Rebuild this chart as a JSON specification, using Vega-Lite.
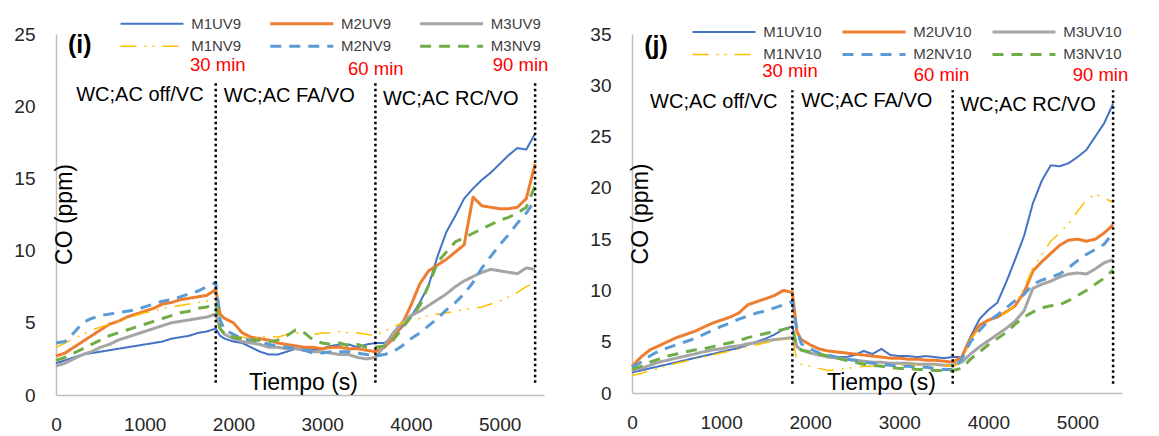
{
  "$schema": "https://vega.github.io/schema/vega-lite/v6.json",
  "background": "white",
  "padding": {"left": 13, "top": 15, "right": 5, "bottom": 0},
  "autosize": {"type": "pad"},
  "bounds": "flush",
  "spacing": 88,
  "config": {
    "view": {"stroke": null},
    "font": "Liberation Sans",
    "axis": {"grid": false, "ticks": false, "labelFlush": false, "format": "d", "domainColor": "#bfbfbf", "domainWidth": 1.5, "labelFont": "Liberation Sans", "labelFontSize": 19, "labelColor": "#262626", "titleFont": "Liberation Sans", "titleFontSize": 23, "titleFontWeight": "normal", "titleColor": "#000000"},
    "axisX": {"labelPadding": 20},
    "axisY": {"labelPadding": 21},
    "legend": {"padding": 0, "labelFont": "Liberation Sans", "labelFontSize": 15, "labelColor": "#404040", "symbolType": "stroke", "symbolSize": 3969, "symbolOffset": 0, "labelOffset": 6.2, "clipHeight": 17, "rowPadding": 5.4, "gridAlign": "each", "labelLimit": 0}
  },
  "datasets": {
    "di": [
      {"t":0,"s":"M1UV9","v":2.2},{"t":100,"s":"M1UV9","v":2.4},{"t":200,"s":"M1UV9","v":2.6},{"t":300,"s":"M1UV9","v":2.8},{"t":400,"s":"M1UV9","v":2.9},{"t":500,"s":"M1UV9","v":3.0},{"t":600,"s":"M1UV9","v":3.1},{"t":700,"s":"M1UV9","v":3.2},{"t":800,"s":"M1UV9","v":3.3},{"t":900,"s":"M1UV9","v":3.4},{"t":1000,"s":"M1UV9","v":3.5},{"t":1100,"s":"M1UV9","v":3.6},{"t":1200,"s":"M1UV9","v":3.7},{"t":1300,"s":"M1UV9","v":3.9},{"t":1400,"s":"M1UV9","v":4.0},{"t":1500,"s":"M1UV9","v":4.1},{"t":1600,"s":"M1UV9","v":4.3},{"t":1700,"s":"M1UV9","v":4.4},{"t":1800,"s":"M1UV9","v":4.6},
      {"t":1850,"s":"M1UV9","v":4.1},{"t":1900,"s":"M1UV9","v":3.9},{"t":2000,"s":"M1UV9","v":3.7},{"t":2100,"s":"M1UV9","v":3.6},{"t":2200,"s":"M1UV9","v":3.3},{"t":2300,"s":"M1UV9","v":3.0},{"t":2400,"s":"M1UV9","v":2.8},{"t":2500,"s":"M1UV9","v":2.8},{"t":2600,"s":"M1UV9","v":3.0},{"t":2700,"s":"M1UV9","v":3.2},{"t":2800,"s":"M1UV9","v":3.3},{"t":2900,"s":"M1UV9","v":3.1},{"t":3000,"s":"M1UV9","v":3.2},{"t":3100,"s":"M1UV9","v":3.4},{"t":3200,"s":"M1UV9","v":3.5},{"t":3300,"s":"M1UV9","v":3.5},{"t":3400,"s":"M1UV9","v":3.3},{"t":3500,"s":"M1UV9","v":3.5},{"t":3600,"s":"M1UV9","v":3.6},
      {"t":3700,"s":"M1UV9","v":3.6},{"t":3800,"s":"M1UV9","v":4.0},{"t":3900,"s":"M1UV9","v":4.7},{"t":4000,"s":"M1UV9","v":5.4},{"t":4100,"s":"M1UV9","v":6.4},{"t":4200,"s":"M1UV9","v":7.6},{"t":4300,"s":"M1UV9","v":9.6},{"t":4400,"s":"M1UV9","v":11.3},{"t":4500,"s":"M1UV9","v":12.4},{"t":4600,"s":"M1UV9","v":13.6},{"t":4700,"s":"M1UV9","v":14.3},{"t":4800,"s":"M1UV9","v":14.9},{"t":4900,"s":"M1UV9","v":15.4},{"t":5000,"s":"M1UV9","v":16.0},{"t":5100,"s":"M1UV9","v":16.6},{"t":5200,"s":"M1UV9","v":17.1},{"t":5300,"s":"M1UV9","v":17.0},{"t":5400,"s":"M1UV9","v":18.1},

      {"t":0,"s":"M2UV9","v":2.7},{"t":100,"s":"M2UV9","v":2.9},{"t":200,"s":"M2UV9","v":3.3},{"t":300,"s":"M2UV9","v":3.7},{"t":400,"s":"M2UV9","v":4.1},{"t":500,"s":"M2UV9","v":4.5},{"t":600,"s":"M2UV9","v":4.9},{"t":700,"s":"M2UV9","v":5.1},{"t":800,"s":"M2UV9","v":5.4},{"t":900,"s":"M2UV9","v":5.6},{"t":1000,"s":"M2UV9","v":5.8},{"t":1100,"s":"M2UV9","v":6.0},{"t":1200,"s":"M2UV9","v":6.3},{"t":1300,"s":"M2UV9","v":6.4},{"t":1400,"s":"M2UV9","v":6.6},{"t":1500,"s":"M2UV9","v":6.7},{"t":1600,"s":"M2UV9","v":6.8},{"t":1700,"s":"M2UV9","v":6.9},{"t":1800,"s":"M2UV9","v":7.3},
      {"t":1850,"s":"M2UV9","v":5.6},{"t":1900,"s":"M2UV9","v":5.3},{"t":2000,"s":"M2UV9","v":5.0},{"t":2100,"s":"M2UV9","v":4.3},{"t":2200,"s":"M2UV9","v":4.0},{"t":2300,"s":"M2UV9","v":3.9},{"t":2400,"s":"M2UV9","v":3.8},{"t":2500,"s":"M2UV9","v":3.6},{"t":2600,"s":"M2UV9","v":3.5},{"t":2700,"s":"M2UV9","v":3.4},{"t":2800,"s":"M2UV9","v":3.3},{"t":2900,"s":"M2UV9","v":3.3},{"t":3000,"s":"M2UV9","v":3.2},{"t":3100,"s":"M2UV9","v":3.3},{"t":3200,"s":"M2UV9","v":3.3},{"t":3300,"s":"M2UV9","v":3.2},{"t":3400,"s":"M2UV9","v":3.2},{"t":3500,"s":"M2UV9","v":3.1},{"t":3600,"s":"M2UV9","v":3.0},
      {"t":3700,"s":"M2UV9","v":3.3},{"t":3800,"s":"M2UV9","v":3.9},{"t":3900,"s":"M2UV9","v":4.9},{"t":4000,"s":"M2UV9","v":6.2},{"t":4100,"s":"M2UV9","v":7.7},{"t":4200,"s":"M2UV9","v":8.6},{"t":4300,"s":"M2UV9","v":9.0},{"t":4400,"s":"M2UV9","v":9.4},{"t":4500,"s":"M2UV9","v":9.9},{"t":4600,"s":"M2UV9","v":10.4},{"t":4700,"s":"M2UV9","v":13.7},{"t":4800,"s":"M2UV9","v":13.1},{"t":4900,"s":"M2UV9","v":13.0},{"t":5000,"s":"M2UV9","v":12.9},{"t":5100,"s":"M2UV9","v":12.9},{"t":5200,"s":"M2UV9","v":13.0},{"t":5300,"s":"M2UV9","v":13.6},{"t":5400,"s":"M2UV9","v":16.0},

      {"t":0,"s":"M3UV9","v":2.0},{"t":100,"s":"M3UV9","v":2.2},{"t":200,"s":"M3UV9","v":2.5},{"t":300,"s":"M3UV9","v":2.8},{"t":400,"s":"M3UV9","v":3.0},{"t":500,"s":"M3UV9","v":3.3},{"t":600,"s":"M3UV9","v":3.5},{"t":700,"s":"M3UV9","v":3.8},{"t":800,"s":"M3UV9","v":4.0},{"t":900,"s":"M3UV9","v":4.2},{"t":1000,"s":"M3UV9","v":4.4},{"t":1100,"s":"M3UV9","v":4.6},{"t":1200,"s":"M3UV9","v":4.8},{"t":1300,"s":"M3UV9","v":5.0},{"t":1400,"s":"M3UV9","v":5.1},{"t":1500,"s":"M3UV9","v":5.2},{"t":1600,"s":"M3UV9","v":5.3},{"t":1700,"s":"M3UV9","v":5.4},{"t":1800,"s":"M3UV9","v":5.6},
      {"t":1850,"s":"M3UV9","v":4.6},{"t":1900,"s":"M3UV9","v":4.2},{"t":2000,"s":"M3UV9","v":3.9},{"t":2100,"s":"M3UV9","v":3.7},{"t":2200,"s":"M3UV9","v":3.6},{"t":2300,"s":"M3UV9","v":3.5},{"t":2400,"s":"M3UV9","v":3.3},{"t":2500,"s":"M3UV9","v":3.3},{"t":2600,"s":"M3UV9","v":3.2},{"t":2700,"s":"M3UV9","v":3.2},{"t":2800,"s":"M3UV9","v":3.1},{"t":2900,"s":"M3UV9","v":3.0},{"t":3000,"s":"M3UV9","v":3.0},{"t":3100,"s":"M3UV9","v":2.9},{"t":3200,"s":"M3UV9","v":2.8},{"t":3300,"s":"M3UV9","v":2.8},{"t":3400,"s":"M3UV9","v":2.6},{"t":3500,"s":"M3UV9","v":2.5},{"t":3600,"s":"M3UV9","v":2.6},
      {"t":3700,"s":"M3UV9","v":3.4},{"t":3800,"s":"M3UV9","v":4.3},{"t":3900,"s":"M3UV9","v":5.0},{"t":4000,"s":"M3UV9","v":5.5},{"t":4100,"s":"M3UV9","v":5.8},{"t":4200,"s":"M3UV9","v":6.2},{"t":4300,"s":"M3UV9","v":6.6},{"t":4400,"s":"M3UV9","v":7.0},{"t":4500,"s":"M3UV9","v":7.5},{"t":4600,"s":"M3UV9","v":7.9},{"t":4700,"s":"M3UV9","v":8.2},{"t":4800,"s":"M3UV9","v":8.5},{"t":4900,"s":"M3UV9","v":8.7},{"t":5000,"s":"M3UV9","v":8.6},{"t":5100,"s":"M3UV9","v":8.5},{"t":5200,"s":"M3UV9","v":8.4},{"t":5300,"s":"M3UV9","v":8.8},{"t":5400,"s":"M3UV9","v":8.7},

      {"t":0,"s":"M1NV9","v":3.3},{"t":100,"s":"M1NV9","v":3.6},{"t":200,"s":"M1NV9","v":3.9},{"t":300,"s":"M1NV9","v":4.2},{"t":400,"s":"M1NV9","v":4.5},{"t":500,"s":"M1NV9","v":4.7},{"t":600,"s":"M1NV9","v":4.9},{"t":700,"s":"M1NV9","v":5.1},{"t":800,"s":"M1NV9","v":5.3},{"t":900,"s":"M1NV9","v":5.5},{"t":1000,"s":"M1NV9","v":5.7},{"t":1100,"s":"M1NV9","v":5.8},{"t":1200,"s":"M1NV9","v":6.0},{"t":1300,"s":"M1NV9","v":6.1},{"t":1400,"s":"M1NV9","v":6.2},{"t":1500,"s":"M1NV9","v":6.3},{"t":1600,"s":"M1NV9","v":6.4},{"t":1700,"s":"M1NV9","v":6.5},{"t":1800,"s":"M1NV9","v":6.6},
      {"t":1850,"s":"M1NV9","v":4.8},{"t":1900,"s":"M1NV9","v":4.3},{"t":2000,"s":"M1NV9","v":4.1},{"t":2100,"s":"M1NV9","v":4.0},{"t":2200,"s":"M1NV9","v":3.9},{"t":2300,"s":"M1NV9","v":4.0},{"t":2400,"s":"M1NV9","v":4.1},{"t":2500,"s":"M1NV9","v":4.0},{"t":2600,"s":"M1NV9","v":4.2},{"t":2700,"s":"M1NV9","v":4.3},{"t":2800,"s":"M1NV9","v":4.3},{"t":2900,"s":"M1NV9","v":4.2},{"t":3000,"s":"M1NV9","v":4.3},{"t":3100,"s":"M1NV9","v":4.3},{"t":3200,"s":"M1NV9","v":4.4},{"t":3300,"s":"M1NV9","v":4.3},{"t":3400,"s":"M1NV9","v":4.3},{"t":3500,"s":"M1NV9","v":4.2},{"t":3600,"s":"M1NV9","v":4.1},
      {"t":3700,"s":"M1NV9","v":4.4},{"t":3800,"s":"M1NV9","v":4.7},{"t":3900,"s":"M1NV9","v":5.0},{"t":4000,"s":"M1NV9","v":5.2},{"t":4100,"s":"M1NV9","v":5.3},{"t":4200,"s":"M1NV9","v":5.5},{"t":4300,"s":"M1NV9","v":5.6},{"t":4400,"s":"M1NV9","v":5.7},{"t":4500,"s":"M1NV9","v":5.8},{"t":4600,"s":"M1NV9","v":5.9},{"t":4700,"s":"M1NV9","v":6.0},{"t":4800,"s":"M1NV9","v":6.1},{"t":4900,"s":"M1NV9","v":6.3},{"t":5000,"s":"M1NV9","v":6.5},{"t":5100,"s":"M1NV9","v":6.8},{"t":5200,"s":"M1NV9","v":7.1},{"t":5300,"s":"M1NV9","v":7.5},{"t":5400,"s":"M1NV9","v":7.8},

      {"t":0,"s":"M2NV9","v":3.6},{"t":100,"s":"M2NV9","v":3.7},{"t":200,"s":"M2NV9","v":4.3},{"t":300,"s":"M2NV9","v":5.0},{"t":400,"s":"M2NV9","v":5.3},{"t":500,"s":"M2NV9","v":5.5},{"t":600,"s":"M2NV9","v":5.6},{"t":700,"s":"M2NV9","v":5.7},{"t":800,"s":"M2NV9","v":5.8},{"t":900,"s":"M2NV9","v":5.9},{"t":1000,"s":"M2NV9","v":6.1},{"t":1100,"s":"M2NV9","v":6.3},{"t":1200,"s":"M2NV9","v":6.5},{"t":1300,"s":"M2NV9","v":6.6},{"t":1400,"s":"M2NV9","v":6.8},{"t":1500,"s":"M2NV9","v":7.0},{"t":1600,"s":"M2NV9","v":7.2},{"t":1700,"s":"M2NV9","v":7.5},{"t":1800,"s":"M2NV9","v":7.8},
      {"t":1850,"s":"M2NV9","v":5.2},{"t":1900,"s":"M2NV9","v":4.5},{"t":2000,"s":"M2NV9","v":4.2},{"t":2100,"s":"M2NV9","v":3.9},{"t":2200,"s":"M2NV9","v":3.8},{"t":2300,"s":"M2NV9","v":3.7},{"t":2400,"s":"M2NV9","v":3.5},{"t":2500,"s":"M2NV9","v":3.4},{"t":2600,"s":"M2NV9","v":3.3},{"t":2700,"s":"M2NV9","v":3.2},{"t":2800,"s":"M2NV9","v":3.1},{"t":2900,"s":"M2NV9","v":2.9},{"t":3000,"s":"M2NV9","v":2.9},{"t":3100,"s":"M2NV9","v":3.0},{"t":3200,"s":"M2NV9","v":3.0},{"t":3300,"s":"M2NV9","v":3.0},{"t":3400,"s":"M2NV9","v":2.9},{"t":3500,"s":"M2NV9","v":2.8},{"t":3600,"s":"M2NV9","v":2.7},
      {"t":3700,"s":"M2NV9","v":2.8},{"t":3800,"s":"M2NV9","v":3.0},{"t":3900,"s":"M2NV9","v":3.4},{"t":4000,"s":"M2NV9","v":3.9},{"t":4100,"s":"M2NV9","v":4.3},{"t":4200,"s":"M2NV9","v":4.8},{"t":4300,"s":"M2NV9","v":5.3},{"t":4400,"s":"M2NV9","v":5.9},{"t":4500,"s":"M2NV9","v":6.4},{"t":4600,"s":"M2NV9","v":7.0},{"t":4700,"s":"M2NV9","v":7.8},{"t":4800,"s":"M2NV9","v":8.8},{"t":4900,"s":"M2NV9","v":9.6},{"t":5000,"s":"M2NV9","v":10.4},{"t":5100,"s":"M2NV9","v":11.1},{"t":5200,"s":"M2NV9","v":11.9},{"t":5300,"s":"M2NV9","v":12.6},{"t":5400,"s":"M2NV9","v":13.5},

      {"t":0,"s":"M3NV9","v":2.4},{"t":100,"s":"M3NV9","v":2.6},{"t":200,"s":"M3NV9","v":2.9},{"t":300,"s":"M3NV9","v":3.2},{"t":400,"s":"M3NV9","v":3.5},{"t":500,"s":"M3NV9","v":3.8},{"t":600,"s":"M3NV9","v":4.1},{"t":700,"s":"M3NV9","v":4.3},{"t":800,"s":"M3NV9","v":4.5},{"t":900,"s":"M3NV9","v":4.7},{"t":1000,"s":"M3NV9","v":4.9},{"t":1100,"s":"M3NV9","v":5.1},{"t":1200,"s":"M3NV9","v":5.3},{"t":1300,"s":"M3NV9","v":5.5},{"t":1400,"s":"M3NV9","v":5.7},{"t":1500,"s":"M3NV9","v":5.8},{"t":1600,"s":"M3NV9","v":6.0},{"t":1700,"s":"M3NV9","v":6.1},{"t":1800,"s":"M3NV9","v":6.3},
      {"t":1850,"s":"M3NV9","v":4.6},{"t":1900,"s":"M3NV9","v":4.2},{"t":2000,"s":"M3NV9","v":4.0},{"t":2100,"s":"M3NV9","v":3.9},{"t":2200,"s":"M3NV9","v":3.8},{"t":2300,"s":"M3NV9","v":3.8},{"t":2400,"s":"M3NV9","v":3.7},{"t":2500,"s":"M3NV9","v":3.8},{"t":2600,"s":"M3NV9","v":4.1},{"t":2700,"s":"M3NV9","v":4.5},{"t":2800,"s":"M3NV9","v":4.3},{"t":2900,"s":"M3NV9","v":3.8},{"t":3000,"s":"M3NV9","v":3.6},{"t":3100,"s":"M3NV9","v":3.5},{"t":3200,"s":"M3NV9","v":3.6},{"t":3300,"s":"M3NV9","v":3.4},{"t":3400,"s":"M3NV9","v":3.5},{"t":3500,"s":"M3NV9","v":3.3},{"t":3600,"s":"M3NV9","v":3.3},
      {"t":3700,"s":"M3NV9","v":3.4},{"t":3800,"s":"M3NV9","v":3.8},{"t":3900,"s":"M3NV9","v":4.6},{"t":4000,"s":"M3NV9","v":5.4},{"t":4100,"s":"M3NV9","v":6.2},{"t":4200,"s":"M3NV9","v":7.6},{"t":4300,"s":"M3NV9","v":9.2},{"t":4400,"s":"M3NV9","v":9.9},{"t":4500,"s":"M3NV9","v":10.6},{"t":4600,"s":"M3NV9","v":10.9},{"t":4700,"s":"M3NV9","v":11.2},{"t":4800,"s":"M3NV9","v":11.5},{"t":4900,"s":"M3NV9","v":11.8},{"t":5000,"s":"M3NV9","v":12.1},{"t":5100,"s":"M3NV9","v":12.3},{"t":5200,"s":"M3NV9","v":12.6},{"t":5300,"s":"M3NV9","v":13.0},{"t":5400,"s":"M3NV9","v":14.5}
    ],
    "dj": [
      {"t":0,"s":"M1UV10","v":2.0},{"t":100,"s":"M1UV10","v":2.2},{"t":200,"s":"M1UV10","v":2.4},{"t":300,"s":"M1UV10","v":2.6},{"t":400,"s":"M1UV10","v":2.8},{"t":500,"s":"M1UV10","v":3.0},{"t":600,"s":"M1UV10","v":3.2},{"t":700,"s":"M1UV10","v":3.4},{"t":800,"s":"M1UV10","v":3.6},{"t":900,"s":"M1UV10","v":3.8},{"t":1000,"s":"M1UV10","v":4.0},{"t":1100,"s":"M1UV10","v":4.2},{"t":1200,"s":"M1UV10","v":4.4},{"t":1300,"s":"M1UV10","v":4.7},{"t":1400,"s":"M1UV10","v":5.0},{"t":1500,"s":"M1UV10","v":5.3},{"t":1600,"s":"M1UV10","v":5.7},{"t":1700,"s":"M1UV10","v":6.2},{"t":1800,"s":"M1UV10","v":6.5},
      {"t":1850,"s":"M1UV10","v":4.6},{"t":1900,"s":"M1UV10","v":4.2},{"t":2000,"s":"M1UV10","v":3.9},{"t":2100,"s":"M1UV10","v":3.7},{"t":2200,"s":"M1UV10","v":3.6},{"t":2300,"s":"M1UV10","v":3.5},{"t":2400,"s":"M1UV10","v":3.5},{"t":2500,"s":"M1UV10","v":3.7},{"t":2600,"s":"M1UV10","v":4.1},{"t":2700,"s":"M1UV10","v":3.8},{"t":2800,"s":"M1UV10","v":4.3},{"t":2900,"s":"M1UV10","v":3.7},{"t":3000,"s":"M1UV10","v":3.6},{"t":3100,"s":"M1UV10","v":3.6},{"t":3200,"s":"M1UV10","v":3.5},{"t":3300,"s":"M1UV10","v":3.6},{"t":3400,"s":"M1UV10","v":3.5},{"t":3500,"s":"M1UV10","v":3.4},{"t":3600,"s":"M1UV10","v":3.5},
      {"t":3700,"s":"M1UV10","v":3.5},{"t":3800,"s":"M1UV10","v":5.5},{"t":3900,"s":"M1UV10","v":7.2},{"t":4000,"s":"M1UV10","v":8.1},{"t":4100,"s":"M1UV10","v":8.8},{"t":4200,"s":"M1UV10","v":10.8},{"t":4300,"s":"M1UV10","v":13.0},{"t":4400,"s":"M1UV10","v":15.3},{"t":4500,"s":"M1UV10","v":18.5},{"t":4600,"s":"M1UV10","v":20.7},{"t":4700,"s":"M1UV10","v":22.2},{"t":4800,"s":"M1UV10","v":22.1},{"t":4900,"s":"M1UV10","v":22.4},{"t":5000,"s":"M1UV10","v":23.0},{"t":5100,"s":"M1UV10","v":23.7},{"t":5200,"s":"M1UV10","v":25.0},{"t":5300,"s":"M1UV10","v":26.3},{"t":5400,"s":"M1UV10","v":28.2},

      {"t":0,"s":"M2UV10","v":2.6},{"t":100,"s":"M2UV10","v":3.5},{"t":200,"s":"M2UV10","v":4.2},{"t":300,"s":"M2UV10","v":4.6},{"t":400,"s":"M2UV10","v":5.0},{"t":500,"s":"M2UV10","v":5.4},{"t":600,"s":"M2UV10","v":5.7},{"t":700,"s":"M2UV10","v":6.0},{"t":800,"s":"M2UV10","v":6.4},{"t":900,"s":"M2UV10","v":6.8},{"t":1000,"s":"M2UV10","v":7.1},{"t":1100,"s":"M2UV10","v":7.4},{"t":1200,"s":"M2UV10","v":7.8},{"t":1300,"s":"M2UV10","v":8.6},{"t":1400,"s":"M2UV10","v":8.9},{"t":1500,"s":"M2UV10","v":9.2},{"t":1600,"s":"M2UV10","v":9.5},{"t":1700,"s":"M2UV10","v":10.0},{"t":1800,"s":"M2UV10","v":9.8},
      {"t":1850,"s":"M2UV10","v":6.0},{"t":1900,"s":"M2UV10","v":5.2},{"t":2000,"s":"M2UV10","v":4.7},{"t":2100,"s":"M2UV10","v":4.3},{"t":2200,"s":"M2UV10","v":4.1},{"t":2300,"s":"M2UV10","v":4.0},{"t":2400,"s":"M2UV10","v":3.9},{"t":2500,"s":"M2UV10","v":3.8},{"t":2600,"s":"M2UV10","v":3.7},{"t":2700,"s":"M2UV10","v":3.6},{"t":2800,"s":"M2UV10","v":3.5},{"t":2900,"s":"M2UV10","v":3.4},{"t":3000,"s":"M2UV10","v":3.4},{"t":3100,"s":"M2UV10","v":3.3},{"t":3200,"s":"M2UV10","v":3.3},{"t":3300,"s":"M2UV10","v":3.2},{"t":3400,"s":"M2UV10","v":3.2},{"t":3500,"s":"M2UV10","v":3.1},{"t":3600,"s":"M2UV10","v":3.0},
      {"t":3700,"s":"M2UV10","v":3.5},{"t":3800,"s":"M2UV10","v":5.3},{"t":3900,"s":"M2UV10","v":6.6},{"t":4000,"s":"M2UV10","v":7.1},{"t":4100,"s":"M2UV10","v":7.4},{"t":4200,"s":"M2UV10","v":7.9},{"t":4300,"s":"M2UV10","v":8.5},{"t":4400,"s":"M2UV10","v":9.8},{"t":4500,"s":"M2UV10","v":11.9},{"t":4600,"s":"M2UV10","v":12.8},{"t":4700,"s":"M2UV10","v":13.6},{"t":4800,"s":"M2UV10","v":14.4},{"t":4900,"s":"M2UV10","v":14.9},{"t":5000,"s":"M2UV10","v":15.0},{"t":5100,"s":"M2UV10","v":14.8},{"t":5200,"s":"M2UV10","v":15.0},{"t":5300,"s":"M2UV10","v":15.6},{"t":5400,"s":"M2UV10","v":16.4},

      {"t":0,"s":"M3UV10","v":2.2},{"t":100,"s":"M3UV10","v":2.4},{"t":200,"s":"M3UV10","v":2.7},{"t":300,"s":"M3UV10","v":3.0},{"t":400,"s":"M3UV10","v":3.2},{"t":500,"s":"M3UV10","v":3.4},{"t":600,"s":"M3UV10","v":3.6},{"t":700,"s":"M3UV10","v":3.8},{"t":800,"s":"M3UV10","v":4.0},{"t":900,"s":"M3UV10","v":4.2},{"t":1000,"s":"M3UV10","v":4.3},{"t":1100,"s":"M3UV10","v":4.5},{"t":1200,"s":"M3UV10","v":4.6},{"t":1300,"s":"M3UV10","v":4.8},{"t":1400,"s":"M3UV10","v":4.9},{"t":1500,"s":"M3UV10","v":5.1},{"t":1600,"s":"M3UV10","v":5.2},{"t":1700,"s":"M3UV10","v":5.3},{"t":1800,"s":"M3UV10","v":5.4},
      {"t":1850,"s":"M3UV10","v":4.5},{"t":1900,"s":"M3UV10","v":4.2},{"t":2000,"s":"M3UV10","v":3.9},{"t":2100,"s":"M3UV10","v":3.7},{"t":2200,"s":"M3UV10","v":3.5},{"t":2300,"s":"M3UV10","v":3.4},{"t":2400,"s":"M3UV10","v":3.3},{"t":2500,"s":"M3UV10","v":3.2},{"t":2600,"s":"M3UV10","v":3.1},{"t":2700,"s":"M3UV10","v":3.0},{"t":2800,"s":"M3UV10","v":3.0},{"t":2900,"s":"M3UV10","v":2.9},{"t":3000,"s":"M3UV10","v":2.9},{"t":3100,"s":"M3UV10","v":2.9},{"t":3200,"s":"M3UV10","v":2.8},{"t":3300,"s":"M3UV10","v":2.8},{"t":3400,"s":"M3UV10","v":2.8},{"t":3500,"s":"M3UV10","v":2.7},{"t":3600,"s":"M3UV10","v":2.7},
      {"t":3700,"s":"M3UV10","v":3.0},{"t":3800,"s":"M3UV10","v":3.8},{"t":3900,"s":"M3UV10","v":4.5},{"t":4000,"s":"M3UV10","v":5.1},{"t":4100,"s":"M3UV10","v":5.7},{"t":4200,"s":"M3UV10","v":6.3},{"t":4300,"s":"M3UV10","v":7.0},{"t":4400,"s":"M3UV10","v":8.0},{"t":4500,"s":"M3UV10","v":10.2},{"t":4600,"s":"M3UV10","v":10.6},{"t":4700,"s":"M3UV10","v":10.9},{"t":4800,"s":"M3UV10","v":11.3},{"t":4900,"s":"M3UV10","v":11.6},{"t":5000,"s":"M3UV10","v":11.7},{"t":5100,"s":"M3UV10","v":11.6},{"t":5200,"s":"M3UV10","v":12.1},{"t":5300,"s":"M3UV10","v":12.7},{"t":5400,"s":"M3UV10","v":13.0},

      {"t":0,"s":"M1NV10","v":1.7},{"t":100,"s":"M1NV10","v":1.9},{"t":200,"s":"M1NV10","v":2.2},{"t":300,"s":"M1NV10","v":2.4},{"t":400,"s":"M1NV10","v":2.7},{"t":500,"s":"M1NV10","v":2.9},{"t":600,"s":"M1NV10","v":3.1},{"t":700,"s":"M1NV10","v":3.3},{"t":800,"s":"M1NV10","v":3.5},{"t":900,"s":"M1NV10","v":3.7},{"t":1000,"s":"M1NV10","v":3.9},{"t":1100,"s":"M1NV10","v":4.1},{"t":1200,"s":"M1NV10","v":4.3},{"t":1300,"s":"M1NV10","v":4.5},{"t":1400,"s":"M1NV10","v":4.7},{"t":1500,"s":"M1NV10","v":4.9},{"t":1600,"s":"M1NV10","v":5.1},{"t":1700,"s":"M1NV10","v":5.2},{"t":1800,"s":"M1NV10","v":5.3},
      {"t":1850,"s":"M1NV10","v":3.2},{"t":1900,"s":"M1NV10","v":2.8},{"t":2000,"s":"M1NV10","v":2.6},{"t":2100,"s":"M1NV10","v":2.4},{"t":2200,"s":"M1NV10","v":2.2},{"t":2300,"s":"M1NV10","v":2.3},{"t":2400,"s":"M1NV10","v":2.4},{"t":2500,"s":"M1NV10","v":2.5},{"t":2600,"s":"M1NV10","v":2.6},{"t":2700,"s":"M1NV10","v":2.6},{"t":2800,"s":"M1NV10","v":2.6},{"t":2900,"s":"M1NV10","v":2.7},{"t":3000,"s":"M1NV10","v":2.7},{"t":3100,"s":"M1NV10","v":2.7},{"t":3200,"s":"M1NV10","v":2.7},{"t":3300,"s":"M1NV10","v":2.6},{"t":3400,"s":"M1NV10","v":2.7},{"t":3500,"s":"M1NV10","v":2.7},{"t":3600,"s":"M1NV10","v":2.6},
      {"t":3700,"s":"M1NV10","v":3.0},{"t":3800,"s":"M1NV10","v":5.2},{"t":3900,"s":"M1NV10","v":6.3},{"t":4000,"s":"M1NV10","v":7.0},{"t":4100,"s":"M1NV10","v":7.4},{"t":4200,"s":"M1NV10","v":7.8},{"t":4300,"s":"M1NV10","v":8.6},{"t":4400,"s":"M1NV10","v":10.2},{"t":4500,"s":"M1NV10","v":12.2},{"t":4600,"s":"M1NV10","v":13.5},{"t":4700,"s":"M1NV10","v":14.8},{"t":4800,"s":"M1NV10","v":15.6},{"t":4900,"s":"M1NV10","v":16.5},{"t":5000,"s":"M1NV10","v":17.7},{"t":5100,"s":"M1NV10","v":18.8},{"t":5200,"s":"M1NV10","v":19.4},{"t":5300,"s":"M1NV10","v":19.0},{"t":5400,"s":"M1NV10","v":18.6},

      {"t":0,"s":"M2NV10","v":2.5},{"t":100,"s":"M2NV10","v":3.0},{"t":200,"s":"M2NV10","v":3.6},{"t":300,"s":"M2NV10","v":4.1},{"t":400,"s":"M2NV10","v":4.4},{"t":500,"s":"M2NV10","v":4.7},{"t":600,"s":"M2NV10","v":5.0},{"t":700,"s":"M2NV10","v":5.3},{"t":800,"s":"M2NV10","v":5.7},{"t":900,"s":"M2NV10","v":6.1},{"t":1000,"s":"M2NV10","v":6.5},{"t":1100,"s":"M2NV10","v":6.8},{"t":1200,"s":"M2NV10","v":7.2},{"t":1300,"s":"M2NV10","v":7.5},{"t":1400,"s":"M2NV10","v":7.8},{"t":1500,"s":"M2NV10","v":8.0},{"t":1600,"s":"M2NV10","v":8.3},{"t":1700,"s":"M2NV10","v":8.6},{"t":1800,"s":"M2NV10","v":8.9},
      {"t":1850,"s":"M2NV10","v":6.2},{"t":1900,"s":"M2NV10","v":4.8},{"t":2000,"s":"M2NV10","v":4.3},{"t":2100,"s":"M2NV10","v":3.9},{"t":2200,"s":"M2NV10","v":3.7},{"t":2300,"s":"M2NV10","v":3.5},{"t":2400,"s":"M2NV10","v":3.3},{"t":2500,"s":"M2NV10","v":3.2},{"t":2600,"s":"M2NV10","v":3.0},{"t":2700,"s":"M2NV10","v":2.9},{"t":2800,"s":"M2NV10","v":2.8},{"t":2900,"s":"M2NV10","v":2.7},{"t":3000,"s":"M2NV10","v":2.6},{"t":3100,"s":"M2NV10","v":2.6},{"t":3200,"s":"M2NV10","v":2.5},{"t":3300,"s":"M2NV10","v":2.5},{"t":3400,"s":"M2NV10","v":2.4},{"t":3500,"s":"M2NV10","v":2.3},{"t":3600,"s":"M2NV10","v":2.3},
      {"t":3700,"s":"M2NV10","v":3.3},{"t":3800,"s":"M2NV10","v":5.0},{"t":3900,"s":"M2NV10","v":6.1},{"t":4000,"s":"M2NV10","v":7.0},{"t":4100,"s":"M2NV10","v":7.6},{"t":4200,"s":"M2NV10","v":8.3},{"t":4300,"s":"M2NV10","v":9.0},{"t":4400,"s":"M2NV10","v":9.6},{"t":4500,"s":"M2NV10","v":10.6},{"t":4600,"s":"M2NV10","v":11.0},{"t":4700,"s":"M2NV10","v":11.3},{"t":4800,"s":"M2NV10","v":11.6},{"t":4900,"s":"M2NV10","v":12.2},{"t":5000,"s":"M2NV10","v":12.9},{"t":5100,"s":"M2NV10","v":13.5},{"t":5200,"s":"M2NV10","v":14.0},{"t":5300,"s":"M2NV10","v":14.5},{"t":5400,"s":"M2NV10","v":15.6},

      {"t":0,"s":"M3NV10","v":2.3},{"t":100,"s":"M3NV10","v":2.6},{"t":200,"s":"M3NV10","v":3.0},{"t":300,"s":"M3NV10","v":3.3},{"t":400,"s":"M3NV10","v":3.6},{"t":500,"s":"M3NV10","v":3.8},{"t":600,"s":"M3NV10","v":4.0},{"t":700,"s":"M3NV10","v":4.2},{"t":800,"s":"M3NV10","v":4.3},{"t":900,"s":"M3NV10","v":4.5},{"t":1000,"s":"M3NV10","v":4.7},{"t":1100,"s":"M3NV10","v":4.9},{"t":1200,"s":"M3NV10","v":5.1},{"t":1300,"s":"M3NV10","v":5.4},{"t":1400,"s":"M3NV10","v":5.6},{"t":1500,"s":"M3NV10","v":5.8},{"t":1600,"s":"M3NV10","v":6.0},{"t":1700,"s":"M3NV10","v":6.2},{"t":1800,"s":"M3NV10","v":6.4},
      {"t":1850,"s":"M3NV10","v":4.5},{"t":1900,"s":"M3NV10","v":4.2},{"t":2000,"s":"M3NV10","v":4.0},{"t":2100,"s":"M3NV10","v":3.8},{"t":2200,"s":"M3NV10","v":3.6},{"t":2300,"s":"M3NV10","v":3.4},{"t":2400,"s":"M3NV10","v":3.2},{"t":2500,"s":"M3NV10","v":3.0},{"t":2600,"s":"M3NV10","v":2.8},{"t":2700,"s":"M3NV10","v":2.7},{"t":2800,"s":"M3NV10","v":2.6},{"t":2900,"s":"M3NV10","v":2.5},{"t":3000,"s":"M3NV10","v":2.4},{"t":3100,"s":"M3NV10","v":2.4},{"t":3200,"s":"M3NV10","v":2.3},{"t":3300,"s":"M3NV10","v":2.3},{"t":3400,"s":"M3NV10","v":2.2},{"t":3500,"s":"M3NV10","v":2.2},{"t":3600,"s":"M3NV10","v":2.2},
      {"t":3700,"s":"M3NV10","v":2.4},{"t":3800,"s":"M3NV10","v":3.3},{"t":3900,"s":"M3NV10","v":4.0},{"t":4000,"s":"M3NV10","v":4.7},{"t":4100,"s":"M3NV10","v":5.3},{"t":4200,"s":"M3NV10","v":5.9},{"t":4300,"s":"M3NV10","v":6.7},{"t":4400,"s":"M3NV10","v":7.4},{"t":4500,"s":"M3NV10","v":7.9},{"t":4600,"s":"M3NV10","v":8.3},{"t":4700,"s":"M3NV10","v":8.5},{"t":4800,"s":"M3NV10","v":8.6},{"t":4900,"s":"M3NV10","v":9.0},{"t":5000,"s":"M3NV10","v":9.5},{"t":5100,"s":"M3NV10","v":10.0},{"t":5200,"s":"M3NV10","v":10.6},{"t":5300,"s":"M3NV10","v":11.2},{"t":5400,"s":"M3NV10","v":12.0}
    ]
  },
  "hconcat": [
    {
      "width": 488,
      "height": 361,
      "layer": [
        {
          "data": {"name": "di"},
          "mark": {"type": "line", "strokeJoin": "round"},
          "encoding": {
            "x": {"field": "t", "type": "quantitative", "scale": {"domain": [0, 5500], "nice": false}, "axis": {"values": [0, 1000, 2000, 3000, 4000, 5000], "title": "Tiempo (s)", "titleX": 247, "titleY": -6, "titleAlign": "center", "titleBaseline": "alphabetic", "titleAngle": 0}},
            "y": {"field": "v", "type": "quantitative", "scale": {"domain": [0, 25], "nice": false, "zero": true}, "axis": {"values": [0, 5, 10, 15, 20, 25], "title": "CO (ppm)", "titleX": 15, "titleY": 180, "titleAngle": -90, "titleAlign": "center", "titleBaseline": "alphabetic"}},
            "color": {"field": "s", "type": "nominal", "scale": {"domain": ["M1UV9", "M1NV9", "M2UV9", "M2NV9", "M3UV9", "M3NV9"], "range": ["#4472C4", "#FFC000", "#ED7D31", "#5B9BD5", "#A5A5A5", "#70AD47"]}, "legend": {"title": null, "orient": "none", "legendX": 63, "legendY": -18.7, "columns": 3, "columnPadding": 26.8}},
            "strokeDash": {"field": "s", "type": "nominal", "scale": {"domain": ["M1UV9", "M1NV9", "M2UV9", "M2NV9", "M3UV9", "M3NV9"], "range": [[1, 0], [16, 8, 2, 6, 2, 8], [1, 0], [11, 8], [1, 0], [11, 8]]}},
            "strokeWidth": {"field": "s", "type": "nominal", "scale": {"type": "ordinal", "domain": ["M1UV9", "M1NV9", "M2UV9", "M2NV9", "M3UV9", "M3NV9"], "range": [2, 1.5, 3, 3, 3, 3]}}
          }
        },
        {
          "data": {"values": [{"t": 1800}, {"t": 3600}, {"t": 5400}]},
          "mark": {"type": "rule", "color": "#000000", "strokeWidth": 2.5, "strokeDash": [2.5, 3]},
          "encoding": {
            "x": {"field": "t", "type": "quantitative"},
            "y": {"datum": 0.85},
            "y2": {"datum": 21.75}
          }
        },
        {
          "data": {"values": [{"t": 946, "v": 20.75, "label": "WC;AC off/VC"}, {"t": 2630, "v": 20.73, "label": "WC;AC FA/VO"}, {"t": 4448, "v": 20.52, "label": "WC;AC RC/VO"}]},
          "mark": {"type": "text", "font": "Liberation Sans", "fontSize": 20, "color": "#000000", "align": "center", "baseline": "middle"},
          "encoding": {
            "x": {"field": "t", "type": "quantitative"},
            "y": {"field": "v", "type": "quantitative"},
            "text": {"field": "label"}
          }
        },
        {
          "data": {"values": [{"t": 1824, "v": 22.83, "label": "30 min"}, {"t": 3604, "v": 22.55, "label": "60 min"}, {"t": 5236, "v": 22.83, "label": "90 min"}]},
          "mark": {"type": "text", "font": "Liberation Sans", "fontSize": 18.5, "color": "#FF0000", "align": "center", "baseline": "middle"},
          "encoding": {
            "x": {"field": "t", "type": "quantitative"},
            "y": {"field": "v", "type": "quantitative"},
            "text": {"field": "label"}
          }
        },
        {
          "data": {"values": [{"t": 267, "v": 24.24, "label": "(i)"}]},
          "mark": {"type": "text", "font": "Liberation Sans", "fontSize": 25, "fontWeight": "bold", "color": "#000000", "align": "center", "baseline": "middle"},
          "encoding": {
            "x": {"field": "t", "type": "quantitative"},
            "y": {"field": "v", "type": "quantitative"},
            "text": {"field": "label"}
          }
        }
      ]
    },
    {
      "width": 490,
      "height": 359,
      "layer": [
        {
          "data": {"name": "dj"},
          "mark": {"type": "line", "strokeJoin": "round"},
          "encoding": {
            "x": {"field": "t", "type": "quantitative", "scale": {"domain": [0, 5500], "nice": false}, "axis": {"values": [0, 1000, 2000, 3000, 4000, 5000], "title": "Tiempo (s)", "titleX": 249, "titleY": -4, "titleAlign": "center", "titleBaseline": "alphabetic", "titleAngle": 0}},
            "y": {"field": "v", "type": "quantitative", "scale": {"domain": [0, 35], "nice": false, "zero": true}, "axis": {"values": [0, 5, 10, 15, 20, 25, 30, 35], "title": "CO (ppm)", "titleX": 15, "titleY": 179.5, "titleAngle": -90, "titleAlign": "center", "titleBaseline": "alphabetic"}},
            "color": {"field": "s", "type": "nominal", "scale": {"domain": ["M1UV10", "M1NV10", "M2UV10", "M2NV10", "M3UV10", "M3NV10"], "range": ["#4472C4", "#FFC000", "#ED7D31", "#5B9BD5", "#A5A5A5", "#70AD47"]}, "legend": {"title": null, "orient": "none", "legendX": 59, "legendY": -10.5, "columns": 3, "columnPadding": 19}},
            "strokeDash": {"field": "s", "type": "nominal", "scale": {"domain": ["M1UV10", "M1NV10", "M2UV10", "M2NV10", "M3UV10", "M3NV10"], "range": [[1, 0], [16, 8, 2, 6, 2, 8], [1, 0], [11, 8], [1, 0], [11, 8]]}},
            "strokeWidth": {"field": "s", "type": "nominal", "scale": {"type": "ordinal", "domain": ["M1UV10", "M1NV10", "M2UV10", "M2NV10", "M3UV10", "M3NV10"], "range": [2, 1.5, 3, 3, 3, 3]}}
          }
        },
        {
          "data": {"values": [{"t": 1800}, {"t": 3600}, {"t": 5400}]},
          "mark": {"type": "rule", "color": "#000000", "strokeWidth": 2.5, "strokeDash": [2.5, 3]},
          "encoding": {
            "x": {"field": "t", "type": "quantitative"},
            "y": {"datum": 0.91},
            "y2": {"datum": 29.51}
          }
        },
        {
          "data": {"values": [{"t": 918, "v": 28.39, "label": "WC;AC off/VC"}, {"t": 2635, "v": 28.42, "label": "WC;AC FA/VO"}, {"t": 4444, "v": 28.05, "label": "WC;AC RC/VO"}]},
          "mark": {"type": "text", "font": "Liberation Sans", "fontSize": 20, "color": "#000000", "align": "center", "baseline": "middle"},
          "encoding": {
            "x": {"field": "t", "type": "quantitative"},
            "y": {"field": "v", "type": "quantitative"},
            "text": {"field": "label"}
          }
        },
        {
          "data": {"values": [{"t": 1773, "v": 31.37, "label": "30 min"}, {"t": 3474, "v": 30.98, "label": "60 min"}, {"t": 5258, "v": 30.98, "label": "90 min"}]},
          "mark": {"type": "text", "font": "Liberation Sans", "fontSize": 18.5, "color": "#FF0000", "align": "center", "baseline": "middle"},
          "encoding": {
            "x": {"field": "t", "type": "quantitative"},
            "y": {"field": "v", "type": "quantitative"},
            "text": {"field": "label"}
          }
        },
        {
          "data": {"values": [{"t": 269, "v": 33.83, "label": "(j)"}]},
          "mark": {"type": "text", "font": "Liberation Sans", "fontSize": 25, "fontWeight": "bold", "color": "#000000", "align": "center", "baseline": "middle"},
          "encoding": {
            "x": {"field": "t", "type": "quantitative"},
            "y": {"field": "v", "type": "quantitative"},
            "text": {"field": "label"}
          }
        }
      ]
    }
  ],
  "resolve": {
    "scale": {"x": "independent", "y": "independent", "color": "independent", "strokeDash": "independent", "strokeWidth": "independent"},
    "legend": {"color": "independent", "strokeDash": "independent", "strokeWidth": "independent"}
  }
}
